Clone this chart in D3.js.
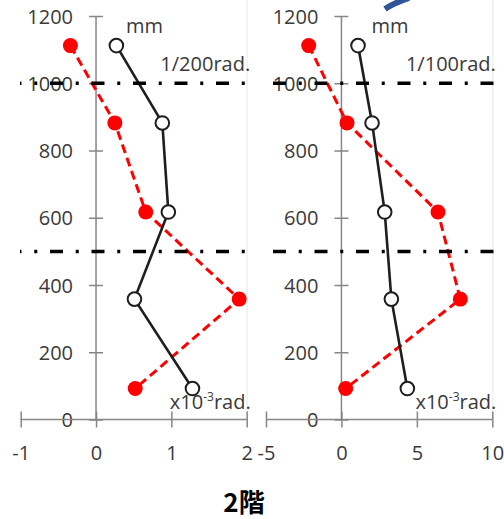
<!DOCTYPE html>
<html>
<head>
<meta charset="utf-8">
<script src="https://cdn.jsdelivr.net/npm/d3@7"></script>
<style>
  html, body { margin: 0; padding: 0; background: #fff; }
  svg { display: block; }
  text { font-family: "Open Sans", "DejaVu Sans", sans-serif; }
</style>
</head>
<body>
<svg id="chart" width="504" height="519"></svg>
<script>
// Measurement heights (mm)
const heights = [1112, 882, 617, 358, 92];
// Left panel (1/200 rad cycle), x10^-3 rad
const leftBlack = [0.27, 0.88, 0.96, 0.51, 1.28];
const leftRed = [-0.34, 0.25, 0.66, 1.90, 0.52];
// Right panel (1/100 rad cycle), x10^-3 rad
const rightBlack = [1.10, 2.03, 2.87, 3.31, 4.37];
const rightRed = [-2.17, 0.37, 6.40, 7.88, 0.28];
// Axis ticks
const yTicks = [0, 200, 400, 600, 800, 1000, 1200];
const leftXTicks = [-1, 0, 1, 2];
const rightXTicks = [-5, 0, 5, 10];
// Horizontal reference levels
const refLevels = [1000, 500];

const svg = d3.select("#chart");
const y = d3.scaleLinear().domain([0, 1200]).range([419.5, 16]);
const plain = d => String(d);

const panels = [
  { domain: [-1, 2], range: [20.7, 246.7], xTicks: leftXTicks, black: leftBlack, red: leftRed,
    cycle: "1/200rad.", refStart: 20, refEnd: 247, refOffset: 11.5 },
  { domain: [-5, 10], range: [266, 492.3], xTicks: rightXTicks, black: rightBlack, red: rightRed,
    cycle: "1/100rad.", refStart: 273, refEnd: 494, refOffset: 0 }
];

const axisColor = "#868686";
const labelColor = "#3a3a3a";

panels.forEach(p => {
  const x = d3.scaleLinear().domain(p.domain).range(p.range);
  const g = svg.append("g");

  // faint plot-area edge
  g.append("line")
    .attr("x1", p.range[1] + 0.5).attr("x2", p.range[1] + 0.5)
    .attr("y1", 0).attr("y2", 419)
    .attr("stroke", "#ececec").attr("stroke-width", 1.2);

  // y axis at x = 0
  const yAxis = g.append("g")
    .attr("transform", `translate(${x(0)},0)`)
    .call(d3.axisLeft(y).tickValues(yTicks).tickFormat(plain).tickSize(7).tickPadding(0));
  yAxis.select(".domain").attr("stroke", axisColor).attr("stroke-width", 1.5)
    .attr("d", `M0,${y(0)}V${y(1200)}`);
  yAxis.selectAll(".tick line").attr("x1", -7).attr("x2", 7)
    .attr("stroke", axisColor).attr("stroke-width", 1.5);
  yAxis.selectAll(".tick text")
    .attr("x", -23).attr("dy", "0.35em")
    .style("font-family", "'Open Sans', sans-serif")
    .style("font-size", "20px").style("fill", labelColor);

  // x axis at y = 0
  const xAxis = g.append("g")
    .attr("transform", `translate(0,${y(0)})`)
    .call(d3.axisBottom(x).tickValues(p.xTicks).tickFormat(plain).tickSize(8).tickPadding(0));
  xAxis.select(".domain").attr("stroke", axisColor).attr("stroke-width", 1.5)
    .attr("d", `M${p.range[0]},0H${p.range[1]}`);
  xAxis.selectAll(".tick line").attr("y1", -8).attr("y2", 8)
    .attr("stroke", axisColor).attr("stroke-width", 1.5);
  xAxis.selectAll(".tick text")
    .attr("y", 40).attr("dy", 0)
    .style("font-family", "'Open Sans', sans-serif")
    .style("font-size", "20px").style("fill", labelColor);
  // axis line drawn over the "0" label
  xAxis.select(".domain").raise();

  // red dashed series
  const redPts = p.red.map((v, i) => [x(v), y(heights[i])]);
  g.append("path")
    .attr("d", d3.line()(redPts))
    .attr("fill", "none").attr("stroke", "#ff0000")
    .attr("stroke-width", 3).attr("stroke-dasharray", "9,5");
  g.selectAll(".redpt").data(redPts).join("circle")
    .attr("cx", d => d[0]).attr("cy", d => d[1]).attr("r", 7.5)
    .attr("fill", "#ff0000");

  // black solid series with open markers
  const blackPts = p.black.map((v, i) => [x(v), y(heights[i])]);
  g.append("path")
    .attr("d", d3.line()(blackPts))
    .attr("fill", "none").attr("stroke", "#1e1e1e").attr("stroke-width", 2.6);
  g.selectAll(".blackpt").data(blackPts).join("circle")
    .attr("cx", d => d[0]).attr("cy", d => d[1]).attr("r", 6.8)
    .attr("fill", "#fff").attr("stroke", "#1e1e1e").attr("stroke-width", 2);

  // dash-dot reference lines
  refLevels.forEach(lv => {
    g.append("line")
      .attr("x1", p.refStart).attr("x2", p.refEnd)
      .attr("y1", y(lv)).attr("y2", y(lv))
      .attr("stroke", "#000").attr("stroke-width", 3.5)
      .attr("stroke-dasharray", "13,12.75,3,12.75")
      .attr("stroke-dashoffset", p.refOffset);
  });

  // annotations
  g.append("text").attr("x", x(0) + 30).attr("y", 33)
    .style("font-size", "20px").style("fill", labelColor).text("mm");
  g.append("text").attr("x", p.range[1] + 3.5).attr("y", 71)
    .attr("text-anchor", "end").style("font-size", "20px").style("fill", labelColor)
    .text(p.cycle);
  const unit = g.append("text").attr("x", p.range[1] + 4).attr("y", 409)
    .attr("text-anchor", "end").style("font-size", "20px").style("fill", labelColor);
  unit.append("tspan").text("x10");
  unit.append("tspan").attr("dy", -8).style("font-size", "12px").text("-3");
  unit.append("tspan").attr("dy", 8).text("rad.");
});

// blue arrow fragment at top edge
svg.append("path")
  .attr("d", "M385,9 Q394,3 409,-2")
  .attr("fill", "none").attr("stroke", "#2f5597").attr("stroke-width", 6);

// panel caption
svg.append("text")
  .attr("x", 244).attr("y", 512)
  .attr("text-anchor", "middle")
  .style("font-family", "'Noto Sans CJK JP', sans-serif")
  .style("font-weight", "bold").style("font-size", "26px")
  .style("fill", "#000")
  .text("2階");
</script>
</body>
</html>
